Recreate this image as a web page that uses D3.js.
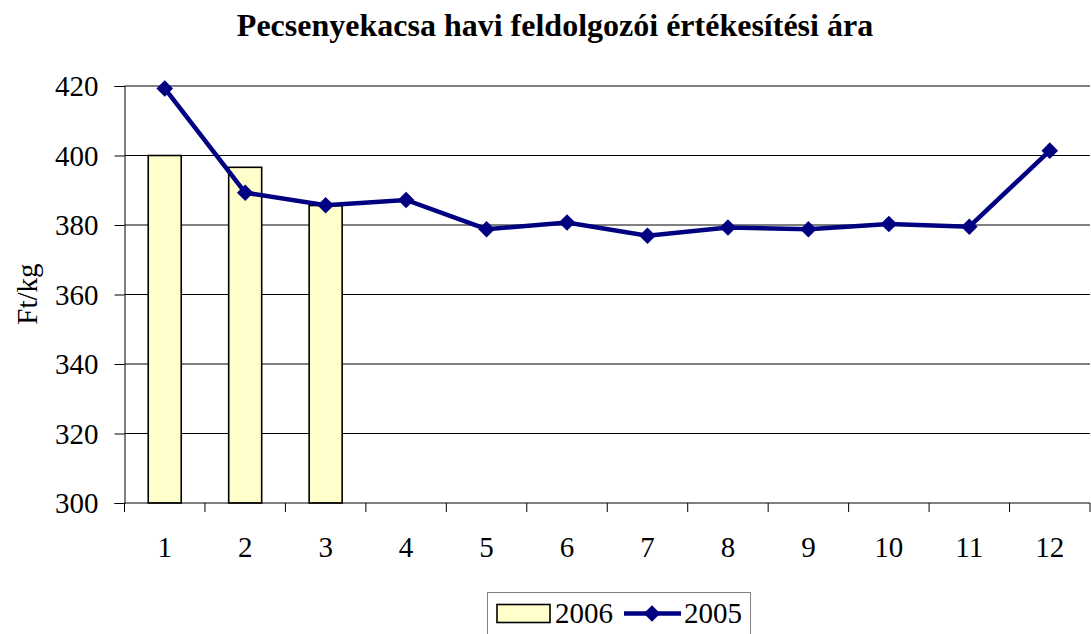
<!DOCTYPE html>
<html>
<head>
<meta charset="utf-8">
<script src="https://cdn.jsdelivr.net/npm/d3@7"></script>
<style>
  body { margin: 0; background: #fff; }
  svg { display: block; }
</style>
</head>
<body>
<svg id="viz" width="1091" height="634"></svg>
<script>
// chart data
var months = ['1', '2', '3', '4', '5', '6', '7', '8', '9', '10', '11', '12'];
var values2006 = [400, 396.6, 385.6];
var values2005 = [419.3, 389.3, 385.7, 387.2, 378.8, 380.7, 376.9, 379.3, 378.8, 380.3, 379.5, 401.4];
var yTicks = [300, 320, 340, 360, 380, 400, 420];

var margin = { left: 124.5, right: 1, top: 86, bottom: 131 };
var width = 1091 - margin.left - margin.right;
var height = 634 - margin.top - margin.bottom;
var fs = '29px';
var serif = 'Liberation Serif, Times New Roman, serif';

var svg = d3.select('#viz');
var g = svg.append('g').attr('transform', 'translate(' + margin.left + ',' + margin.top + ')');

var x = d3.scaleBand().domain(months).range([0, width]);
var y = d3.scaleLinear().domain([300, 420]).range([height, 0]);

// gridlines
g.selectAll('.grid')
  .data(yTicks.slice(1))
  .enter()
  .append('line')
  .attr('x1', 0)
  .attr('x2', width)
  .attr('y1', function (d) { return y(d); })
  .attr('y2', function (d) { return y(d); })
  .attr('stroke', '#000')
  .attr('stroke-width', 1);

// bars for 2006
var barW = x.bandwidth() * 0.41;
g.selectAll('.bar')
  .data(values2006)
  .enter()
  .append('rect')
  .attr('x', function (d, i) { return x(months[i]) + x.bandwidth() / 2 - barW / 2; })
  .attr('y', function (d) { return y(d); })
  .attr('width', barW)
  .attr('height', function (d) { return y(300) - y(d); })
  .attr('fill', '#FFFFCC')
  .attr('stroke', '#000')
  .attr('stroke-width', 1.6);

// y axis (line + ticks from d3, labels drawn separately)
var yAxis = g.append('g')
  .call(d3.axisLeft(y).tickValues(yTicks).tickSize(10).tickFormat(''));
yAxis.select('.domain').attr('stroke', '#000');
yAxis.selectAll('line').attr('stroke', '#000');
g.selectAll('.ylbl')
  .data(yTicks)
  .enter()
  .append('text')
  .attr('x', -26)
  .attr('y', function (d) { return y(d); })
  .attr('dy', '0.35em')
  .attr('text-anchor', 'end')
  .attr('font-family', serif)
  .attr('font-size', fs)
  .text(function (d) { return d; });

// x axis with ticks at category boundaries
var xAxis = g.append('g').attr('transform', 'translate(0,' + height + ')');
xAxis.append('line').attr('x1', 0).attr('x2', width).attr('stroke', '#000');
xAxis.selectAll('.tick')
  .data(d3.range(months.length + 1))
  .enter()
  .append('line')
  .attr('x1', function (i) { return i * x.step(); })
  .attr('x2', function (i) { return i * x.step(); })
  .attr('y1', 0)
  .attr('y2', 9)
  .attr('stroke', '#000');
xAxis.selectAll('.lbl')
  .data(months)
  .enter()
  .append('text')
  .attr('x', function (d) { return x(d) + x.bandwidth() / 2; })
  .attr('y', 54)
  .attr('text-anchor', 'middle')
  .attr('font-family', serif)
  .attr('font-size', fs)
  .text(function (d) { return d; });

// 2005 line
var line = d3.line()
  .x(function (d, i) { return x(months[i]) + x.bandwidth() / 2; })
  .y(function (d) { return y(d); });
g.append('path')
  .datum(values2005)
  .attr('d', line)
  .attr('fill', 'none')
  .attr('stroke', '#000080')
  .attr('stroke-width', 4.5);

var diamond = d3.symbol().type(d3.symbolDiamond2).size(175);
g.selectAll('.pt')
  .data(values2005)
  .enter()
  .append('path')
  .attr('d', diamond)
  .attr('transform', function (d, i) {
    return 'translate(' + (x(months[i]) + x.bandwidth() / 2) + ',' + y(d) + ')';
  })
  .attr('fill', '#000080');

// title
svg.append('text')
  .attr('x', 555)
  .attr('y', 36)
  .attr('text-anchor', 'middle')
  .attr('font-family', serif)
  .attr('font-size', '32px')
  .attr('font-weight', 'bold')
  .text('Pecsenyekacsa havi feldolgozói értékesítési ára');

// y axis title
svg.append('text')
  .attr('transform', 'translate(37,294) rotate(-90)')
  .attr('text-anchor', 'middle')
  .attr('font-family', serif)
  .attr('font-size', fs)
  .text('Ft/kg');

// legend
var leg = svg.append('g');
leg.append('rect')
  .attr('x', 487.5).attr('y', 592.5)
  .attr('width', 263).attr('height', 50)
  .attr('fill', '#fff').attr('stroke', '#808080');
leg.append('rect')
  .attr('x', 497).attr('y', 604.5)
  .attr('width', 53).attr('height', 18)
  .attr('fill', '#FFFFCC').attr('stroke', '#000').attr('stroke-width', 1.6);
leg.append('text').attr('x', 555).attr('y', 623)
  .attr('font-family', serif).attr('font-size', fs).text('2006');
leg.append('line')
  .attr('x1', 624).attr('x2', 681).attr('y1', 613.5).attr('y2', 613.5)
  .attr('stroke', '#000080').attr('stroke-width', 4.5);
leg.append('path').attr('d', diamond).attr('transform', 'translate(652,613.5)').attr('fill', '#000080');
leg.append('text').attr('x', 684).attr('y', 623)
  .attr('font-family', serif).attr('font-size', fs).text('2005');
</script>
</body>
</html>
